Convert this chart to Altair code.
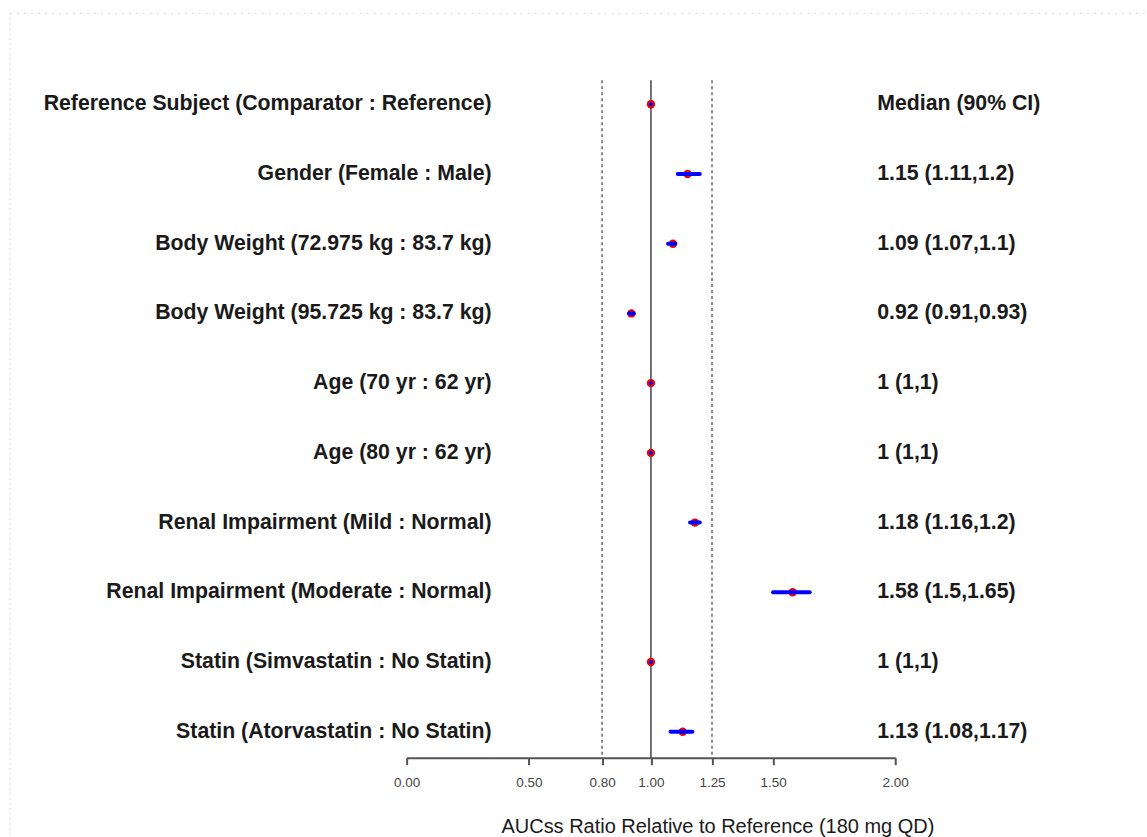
import altair as alt
import pandas as pd

# Covariate effects on steady-state exposure (median ratio and 90% CI)
labels = [
    "Reference Subject (Comparator : Reference)",
    "Gender (Female : Male)",
    "Body Weight (72.975 kg : 83.7 kg)",
    "Body Weight (95.725 kg : 83.7 kg)",
    "Age (70 yr : 62 yr)",
    "Age (80 yr : 62 yr)",
    "Renal Impairment (Mild : Normal)",
    "Renal Impairment (Moderate : Normal)",
    "Statin (Simvastatin : No Statin)",
    "Statin (Atorvastatin : No Statin)",
]
medians = [1.0, 1.15, 1.09, 0.92, 1.0, 1.0, 1.18, 1.58, 1.0, 1.13]
lower = [1.0, 1.11, 1.07, 0.91, 1.0, 1.0, 1.16, 1.5, 1.0, 1.08]
upper = [1.0, 1.2, 1.1, 0.93, 1.0, 1.0, 1.2, 1.65, 1.0, 1.17]
ci_text = [
    "Median (90% CI)",
    "1.15 (1.11,1.2)",
    "1.09 (1.07,1.1)",
    "0.92 (0.91,0.93)",
    "1 (1,1)",
    "1 (1,1)",
    "1.18 (1.16,1.2)",
    "1.58 (1.5,1.65)",
    "1 (1,1)",
    "1.13 (1.08,1.17)",
]
tick_values = [0.0, 0.5, 0.8, 1.0, 1.25, 1.5, 2.0]
dashed_refs = [0.8, 1.25]
solid_refs = [1.0]

df = pd.DataFrame({
    "row": list(range(len(labels))),
    "label": labels,
    "median": medians,
    "lo": lower,
    "hi": upper,
    "ci": ci_text,
})

FONT = "Liberation Sans"
W, H = 1147, 758

xscale = alt.Scale(domain=[0, 2], range=[407, 896], clamp=False)
yscale = alt.Scale(domain=[0, len(labels) - 1], range=[104, 732])

x_axis = alt.Axis(
    values=tick_values,
    format=".2f",
    grid=False,
    domainColor="#555555",
    domainWidth=2,
    tickColor="#555555",
    tickWidth=2,
    tickSize=7,
    labelFont=FONT,
    labelFontSize=13.5,
    labelColor="#444444",
    labelPadding=11,
    labelFlush=False,
    labelOverlap=False,
    title="AUCss Ratio Relative to Reference (180 mg QD)",
    titleFont=FONT,
    titleFontSize=20,
    titleFontWeight="normal",
    titleColor="#1a1a1a",
    titleX=718,
    titleY=75,
    titleBaseline="alphabetic",
)


def xenc(field):
    return alt.X(field, type="quantitative", scale=xscale, axis=x_axis)


dashed = alt.Chart(pd.DataFrame({"ref": dashed_refs})).mark_rule(
    color="#666666", strokeWidth=1.5, strokeDash=[3, 3]
).encode(
    x=xenc("ref"),
    y=alt.value(80),
    y2=alt.value(H),
)

solid = alt.Chart(pd.DataFrame({"ref": solid_refs})).mark_rule(
    color="#444444", strokeWidth=1.5
).encode(
    x=xenc("ref"),
    y=alt.value(80),
    y2=alt.value(H),
)

points = alt.Chart(df).mark_circle(color="#f00000", opacity=1, size=70).encode(
    x=xenc("median"),
    y=alt.Y("row:Q", scale=yscale, axis=None),
)

ci_lines = alt.Chart(df).mark_rule(
    color="#0000ff", strokeWidth=4, strokeCap="round"
).encode(
    x=xenc("lo"),
    x2="hi:Q",
    y=alt.Y("row:Q", scale=yscale, axis=None),
)

left_text = alt.Chart(df).mark_text(
    align="right", baseline="middle", font=FONT, fontSize=21.3,
    fontWeight="bold", color="#1a1a1a",
).encode(
    x=alt.value(492),
    y=alt.Y("row:Q", scale=yscale, axis=None),
    text="label:N",
)

right_text = alt.Chart(df).mark_text(
    align="left", baseline="middle", font=FONT, fontSize=21.3,
    fontWeight="bold", color="#1a1a1a",
).encode(
    x=alt.value(878),
    y=alt.Y("row:Q", scale=yscale, axis=None),
    text="ci:N",
)

# faint dotted frame along the top and left edges
frame_top = alt.Chart(pd.DataFrame({"k": [0]})).mark_rule(
    color="#d8d8d8", strokeWidth=1, strokeDash=[2, 5]
).encode(x=alt.value(10), x2=alt.value(W), y=alt.value(13))
frame_left = alt.Chart(pd.DataFrame({"k": [0]})).mark_rule(
    color="#d8d8d8", strokeWidth=1, strokeDash=[2, 3]
).encode(x=alt.value(10), y=alt.value(13), y2=alt.value(837))

chart = alt.layer(
    dashed, solid, frame_top, frame_left, points, ci_lines, left_text, right_text
).properties(
    width=W,
    height=H,
    padding=0,
    autosize=alt.AutoSizeParams(type="pad"),
    background="white",
).configure_view(stroke=None)

chart.save("out.html", embed_options={"renderer": "svg", "actions": False})
